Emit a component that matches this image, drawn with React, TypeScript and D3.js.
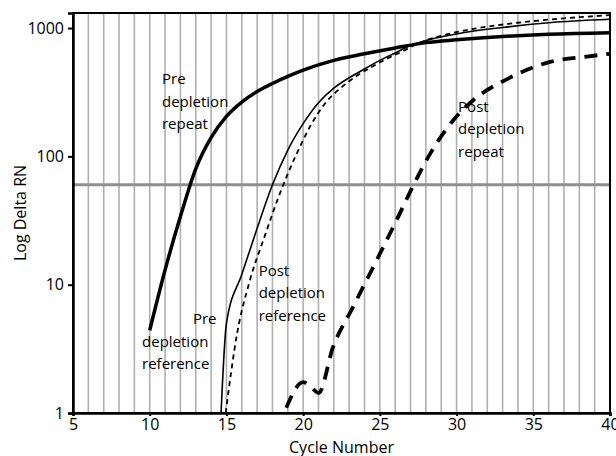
import React, { useEffect, useRef } from "react";
import * as d3 from "d3";

// cycle / delta RN
const preRepeatX = [10, 11, 12, 13, 14, 15, 16, 17, 18, 19, 20, 22, 24, 26, 28, 30, 33, 36, 40];
const preRepeatY = [4.4, 13, 34, 80, 140, 205, 265, 320, 370, 420, 470, 560, 630, 700, 770, 810, 860, 895, 920];

const preRefX = [14.65, 15, 16, 17, 18, 19, 20, 21, 22, 23, 24, 25, 26, 27, 28, 30, 33, 36, 40];
const preRefY = [1, 5, 12, 27.5, 60, 112, 180, 262, 340, 410, 480, 560, 640, 730, 800, 900, 1010, 1100, 1170];

const postRefX = [14.95, 15.7, 16.5, 17.5, 18.5, 19.5, 20.5, 21.5, 22.5, 23.5, 24.5, 25.5, 26.5, 27.5, 29, 31, 34, 37, 40];
const postRefY = [1, 4.2, 10.5, 24, 52, 100, 175, 265, 345, 425, 500, 580, 660, 760, 870, 980, 1100, 1190, 1260];

const postRepeatX = [18.9, 20.0, 20.5, 21.0, 21.95, 23.25, 24.8, 26.1, 27.2, 28.3, 29.8, 31.1, 33.3, 36.1, 38.5, 40];
const postRepeatY = [1.1, 1.74, 1.6, 1.43, 3.27, 6.7, 15.6, 32, 60, 106, 192, 275, 400, 545, 600, 630];

const threshold = 60;
const xTicks = [5, 10, 15, 20, 25, 30, 35, 40];
const yTicks = [1, 10, 100, 1000];

const labels = [
  { lines: ["Pre", "depletion", "repeat"], cx: 10.8, cy: 365 },
  { lines: ["Post", "depletion", "repeat"], cx: 30.1, cy: 222 },
  { lines: ["Post", "depletion", "reference"], cx: 17.1, cy: 11.7 },
];

export default function App() {
  const ref = useRef<SVGSVGElement>(null);

  useEffect(() => {
    const width = 616, height = 456;
    const m = { left: 73, right: 6, top: 13, bottom: 43 };
    const svg = d3.select(ref.current);
    svg.selectAll("*").remove();

    const x = d3.scaleLinear().domain([5, 40]).range([m.left, width - m.right]);
    const y = d3.scaleLog().domain([1, 1310]).range([height - m.bottom, m.top]);
    const font = "'Open Sans', sans-serif";

    svg.append("defs").append("clipPath").attr("id", "plotClip")
      .append("rect")
      .attr("x", m.left).attr("y", m.top)
      .attr("width", width - m.left - m.right)
      .attr("height", height - m.top - m.bottom);

    // vertical grid every cycle
    svg.append("g")
      .selectAll("line")
      .data(d3.range(6, 40))
      .join("line")
      .attr("x1", (d) => x(d)).attr("x2", (d) => x(d))
      .attr("y1", m.top).attr("y2", height - m.bottom)
      .attr("stroke", "#b0b0b0")
      .attr("stroke-width", 1.6);

    // threshold
    svg.append("line")
      .attr("x1", m.left).attr("x2", width - m.right)
      .attr("y1", y(threshold)).attr("y2", y(threshold))
      .attr("stroke", "#8f8f8f")
      .attr("stroke-width", 3);

    const series = [
      { xs: preRepeatX, ys: preRepeatY, w: 3.5, dash: null },
      { xs: preRefX, ys: preRefY, w: 1.6, dash: null },
      { xs: postRefX, ys: postRefY, w: 1.8, dash: "5,4" },
      { xs: postRepeatX, ys: postRepeatY, w: 3.8, dash: "13,9" },
    ];

    const line = d3.line<[number, number]>()
      .x((d) => x(d[0]))
      .y((d) => y(d[1]))
      .curve(d3.curveMonotoneX);

    const g = svg.append("g").attr("clip-path", "url(#plotClip)");
    series.forEach((s) => {
      const pts = s.xs.map((v, i) => [v, s.ys[i]] as [number, number]);
      g.append("path")
        .attr("d", line(pts))
        .attr("fill", "none")
        .attr("stroke", "#000")
        .attr("stroke-width", s.w)
        .attr("stroke-dasharray", s.dash)
        .attr("stroke-linejoin", "round");
    });

    // frame
    svg.append("rect")
      .attr("x", m.left).attr("y", m.top)
      .attr("width", width - m.left - m.right)
      .attr("height", height - m.top - m.bottom)
      .attr("fill", "none")
      .attr("stroke", "#000")
      .attr("stroke-width", 2);

    // axes
    const yAxis = svg.append("g")
      .attr("transform", `translate(${m.left},0)`)
      .call(d3.axisLeft(y).tickValues(yTicks).tickFormat(d3.format("d")).tickSize(5).tickPadding(4));
    yAxis.select(".domain").attr("stroke-width", 2.5);
    yAxis.selectAll(".tick line").attr("stroke-width", 2);
    yAxis.selectAll("text").attr("font-size", 16).attr("font-family", font).attr("fill", "#000");

    const xAxis = svg.append("g")
      .attr("transform", `translate(0,${height - m.bottom})`)
      .call(d3.axisBottom(x).tickValues(xTicks).tickSize(3).tickPadding(3));
    xAxis.select(".domain").attr("stroke-width", 2.5);
    xAxis.selectAll(".tick line").attr("stroke-width", 2);
    xAxis.selectAll("text").attr("font-size", 16).attr("font-family", font).attr("fill", "#000");

    svg.append("text")
      .attr("x", (m.left + width - m.right) / 2)
      .attr("y", 453)
      .attr("text-anchor", "middle")
      .attr("font-family", font)
      .attr("font-size", 16)
      .text("Cycle Number");

    svg.append("text")
      .attr("transform", `translate(26,${(m.top + height - m.bottom) / 2}) rotate(-90)`)
      .attr("text-anchor", "middle")
      .attr("font-family", font)
      .attr("font-size", 16)
      .text("Log Delta RN");

    // curve labels
    labels.forEach((l) => {
      const t = svg.append("text")
        .attr("x", x(l.cx)).attr("y", y(l.cy))
        .attr("font-family", font)
        .attr("font-size", 15);
      l.lines.forEach((s, i) => {
        t.append("tspan").attr("x", x(l.cx)).attr("dy", i === 0 ? 0 : 22.5).text(s);
      });
    });

    // "Pre depletion reference" - first word right-aligned
    const py = y(4.9);
    const pr = svg.append("text")
      .attr("font-family", font)
      .attr("font-size", 15);
    pr.append("tspan").attr("x", x(14.35)).attr("y", py).attr("text-anchor", "end").text("Pre");
    pr.append("tspan").attr("x", x(9.5)).attr("y", py + 22.5).text("depletion");
    pr.append("tspan").attr("x", x(9.5)).attr("y", py + 45).text("reference");
  }, []);

  return <svg ref={ref} width={616} height={456} style={{ position: "absolute", left: 0, top: 0 }} />;
}
